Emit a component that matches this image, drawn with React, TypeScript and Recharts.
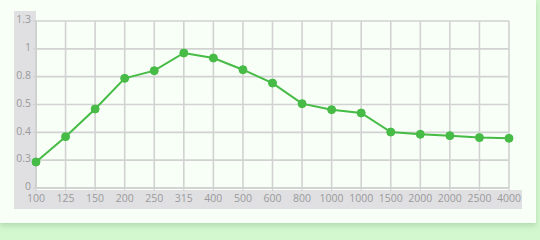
import { CartesianGrid, Line, LineChart, XAxis, YAxis } from "recharts";

const frequencies = [
  "100", "125", "150", "200", "250", "315", "400", "500", "600",
  "800", "1000", "1000", "1500", "2000", "2000", "2500", "4000",
];
const values = [
  0.187, 0.369, 0.568, 0.788, 0.843, 0.97, 0.934, 0.85, 0.754,
  0.606, 0.563, 0.539, 0.402, 0.386, 0.376, 0.362, 0.357,
];
const yTicks = [0, 0.2, 0.4, 0.6, 0.8, 1, 1.2];
const yTickLabels = ["0", "0.3", "0.4", "0.5", "0.8", "1", "1.3"];

const data = frequencies.map((f, i) => ({ freq: f, value: values[i] }));

const tickStyle = { fill: "#9a9a9a", fontSize: 10.5, fontFamily: "Open Sans" };

export default function App() {
  return (
    <div style={{ position: "relative", width: 540, height: 240, background: "#d3f7cf", overflow: "hidden" }}>
      <style>{"body{margin:0}"}</style>
      <div
        style={{
          position: "absolute",
          left: 0,
          top: 0,
          width: 536,
          height: 223,
          background: "#f7fff6",
          boxShadow: "0 3px 5px rgba(120,170,120,0.35)",
        }}
      />
      {/* grey L-shaped band behind the axes */}
      <div style={{ position: "absolute", left: 14, top: 11, width: 22, height: 198, background: "#e0e0e3" }} />
      <div style={{ position: "absolute", left: 14, top: 190, width: 508, height: 19, background: "#e0e0e3" }} />
      <div style={{ position: "absolute", left: 36, top: 21, width: 473, height: 167, background: "#f7fff6" }} />
      <div style={{ position: "absolute", left: 0, top: 0 }}>
        <LineChart width={540} height={240} data={data} margin={{ top: 21, right: 31, bottom: 32, left: 0 }}>
          <CartesianGrid stroke="#d2d2d2" strokeWidth={1.6} />
          <XAxis
            dataKey="freq"
            allowDuplicatedCategory
            interval={0}
            height={20}
            tick={{ ...tickStyle, dy: 2 }}
            tickSize={3}
            tickLine={{ stroke: "#cfcfcf" }}
            axisLine={{ stroke: "#cfcfcf", strokeWidth: 1.6 }}
          />
          <YAxis
            width={36}
            domain={[0, 1.2]}
            ticks={yTicks}
            interval={0}
            tick={{ ...tickStyle, dy: -1.5 }}
            tickSize={3}
            tickLine={{ stroke: "#cfcfcf" }}
            axisLine={{ stroke: "#cfcfcf", strokeWidth: 1.6 }}
            tickFormatter={(v: number) => yTickLabels[yTicks.indexOf(v)] ?? String(v)}
          />
          <Line
            dataKey="value"
            stroke="#46bb45"
            strokeWidth={2}
            dot={{ r: 4, fill: "#46bb45", stroke: "#46bb45", strokeWidth: 1 }}
            isAnimationActive={false}
          />
        </LineChart>
      </div>
    </div>
  );
}
